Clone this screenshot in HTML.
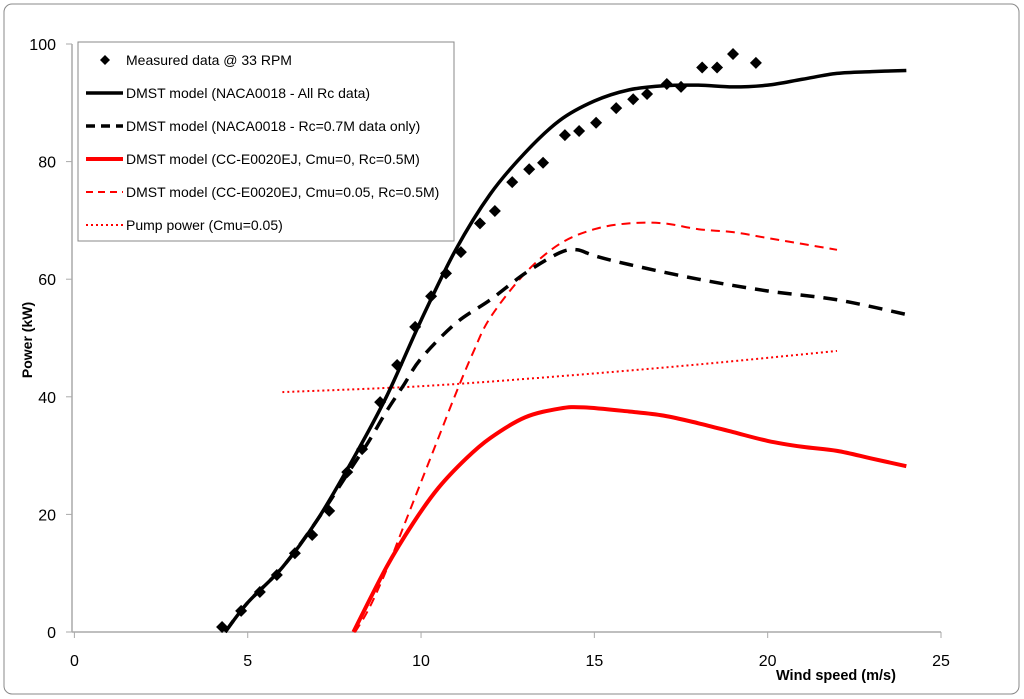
<!DOCTYPE html>
<html><head><meta charset="utf-8"><style>
body{margin:0;background:#fff;}
svg{display:block;font-family:"Liberation Sans",sans-serif;}
</style></head><body>
<svg id="c" width="1024" height="699">
<rect x="4" y="4" width="1015" height="690" rx="8" fill="#fff" stroke="#888" stroke-width="1"/>
<g id="plot"></g>
</svg>
<script>
const xTicks=[0,5,10,15,20,25];
const yTicks=[0,20,40,60,80,100];
const measX=[4.26,4.81,5.35,5.84,6.36,6.86,7.35,7.87,8.30,8.82,9.31,9.83,10.29,10.72,11.15,11.70,12.13,12.63,13.12,13.52,14.15,14.56,15.05,15.63,16.12,16.52,17.09,17.50,18.11,18.54,19.00,19.66];
const measY=[0.85,3.6,6.8,9.7,13.4,16.5,20.6,27.2,31.1,39.1,45.4,51.9,57.1,61.0,64.6,69.5,71.6,76.5,78.7,79.8,84.5,85.2,86.6,89.1,90.6,91.5,93.2,92.7,96.0,96.0,98.3,96.8];
const allRcX=[4.35,5,6,7,8,9,10,11,12,13,14,15,16,17,18,19,20,21,22,23,24];
const allRcY=[0,5,11,19,29,40,53,65,74.5,81.5,87,90.3,92.2,92.9,93,92.7,93,94,95,95.3,95.5];
const rc07X=[4.35,5,6,7,8,8.5,9,9.5,10,11,12,13,14,14.5,15,16,18,20,22,24];
const rc07Y=[0,5,11,19,28,32.5,37.5,42,46.5,52.5,56.5,61,64.5,65,64,62.5,60,58,56.5,54];
const cmu0X=[8.05,9,9.77,10.5,11.3,12,13,14,14.7,16,17,18,19,20,21,22,23,24];
const cmu0Y=[0,11,18.5,24.5,29.5,33,36.5,38,38.2,37.5,36.8,35.5,34,32.5,31.5,30.8,29.5,28.2];
const cmu05X=[8.1,8.5,9,9.5,10,10.5,11,11.5,12,13,14,15,16,17,18,19,20,21,22];
const cmu05Y=[0,4,10.5,18,25.5,33,40.5,47.5,53.5,61,66,68.5,69.5,69.5,68.5,68,67,66,65];
const pumpX=[6,10,14,18,22];
const pumpY=[40.8,41.8,43.5,45.5,47.8];

const X0=74.4,X1=941,Y0=632,Y1=44;
const sx=v=>X0+(v-0)/(25-0)*(X1-X0);
const sy=v=>Y0-(v-0)/(100-0)*(Y0-Y1);
const NS='http://www.w3.org/2000/svg';
const g=document.getElementById('plot');
function mk(t,a,txt){const e=document.createElementNS(NS,t);for(const k in a)e.setAttribute(k,a[k]);if(txt!==undefined)e.textContent=txt;g.appendChild(e);return e;}
let ax=mk('line',{x1:72,y1:Y0,x2:X1,y2:Y0,stroke:'#aaa','stroke-width':1.5});


let ay=mk('line',{x1:72,y1:Y0,x2:72,y2:Y1,stroke:'#aaa','stroke-width':1.5});


xTicks.forEach(t=>{
  let l=mk('line',{x1:sx(t),y1:Y0,x2:sx(t),y2:Y0+6,stroke:'#aaa','stroke-width':1});
  
  
  let tx=mk('text',{x:sx(t),y:Y0+34,'text-anchor':'middle','font-size':16,fill:'#000'},String(t));
  
  
});
yTicks.forEach(t=>{
  let l=mk('line',{x1:66,y1:sy(t),x2:72,y2:sy(t),stroke:'#aaa','stroke-width':1});
  
  
  let tx=mk('text',{x:56,y:sy(t)+6,'text-anchor':'end','font-size':16,fill:'#000'},String(t));
  
  
});
let yt=mk('text',{x:0,y:0,transform:'translate(32,340) rotate(-90)','text-anchor':'middle','font-size':14,'font-weight':'bold'},'Power (kW)');


let xt=mk('text',{x:776,y:680,'font-size':14.5,'font-weight':'bold'},'Wind speed  (m/s)');



function smooth(xs,ys){
  const p=xs.map((x,i)=>[sx(x),sy(ys[i])]);
  let d='M'+p[0][0]+','+p[0][1];
  for(let i=0;i<p.length-1;i++){
    const p0=p[i-1]||p[i],p1=p[i],p2=p[i+1],p3=p[i+2]||p2;
    const c1=[p1[0]+(p2[0]-p0[0])/6,p1[1]+(p2[1]-p0[1])/6];
    const c2=[p2[0]-(p3[0]-p1[0])/6,p2[1]-(p3[1]-p1[1])/6];
    d+=`C${c1[0]},${c1[1]} ${c2[0]},${c2[1]} ${p2[0]},${p2[1]}`;
  }
  return d;
}
function series(xs,ys,stroke,w,dash,name){
  const a={d:smooth(xs,ys),fill:'none',stroke:stroke,'stroke-width':w};
  if(dash)a['stroke-dasharray']=dash;
  let e=mk('path',a);
  
  
}
series(pumpX,pumpY,'#f00',2,'2,3','pump-power-line');
series(cmu0X,cmu0Y,'#f00',4,null,'cc-cmu0-line');
series(cmu05X,cmu05Y,'#f00',2,'9,6','cc-cmu005-line');
series(rc07X,rc07Y,'#000',3.5,'14,9','naca-rc07-line');
series(allRcX,allRcY,'#000',3.5,null,'naca-allrc-line');
measX.forEach((x,i)=>{
  const cx=sx(x),cy=sy(measY[i]);
  let e=mk('polygon',{points:`${cx},${cy-6} ${cx+6},${cy} ${cx},${cy+6} ${cx-6},${cy}`,fill:'#000'});
  
  
});
let lb=mk('rect',{x:78,y:42,width:376,height:199,fill:'#fff',stroke:'#888','stroke-width':1});


const legItems=[
 ['Measured data @ 33 RPM','dia'],
 ['DMST model (NACA0018 - All Rc data)','#000',3.5,null],
 ['DMST model (NACA0018 - Rc=0.7M data only)','#000',3.5,'9,6'],
 ['DMST model (CC-E0020EJ, Cmu=0, Rc=0.5M)','#f00',4,null],
 ['DMST model (CC-E0020EJ, Cmu=0.05, Rc=0.5M)','#f00',2,'7,5'],
 ['Pump power (Cmu=0.05)','#f00',2,'2,3']];
legItems.forEach((it,i)=>{
  const y=60+i*33;
  if(it[1]==='dia'){
    let e=mk('polygon',{points:`105,${y-5} 110,${y} 105,${y+5} 100,${y}`,fill:'#000'});
    
    
  }else{
    const a={x1:86,y1:y,x2:123,y2:y,stroke:it[1],'stroke-width':it[2]};
    if(it[3])a['stroke-dasharray']=it[3];
    let e=mk('line',a);
    
    
  }
  let t=mk('text',{x:126,y:y+5,'font-size':14,fill:'#000'},it[0]);
  
  
});
</script>
</body></html>
